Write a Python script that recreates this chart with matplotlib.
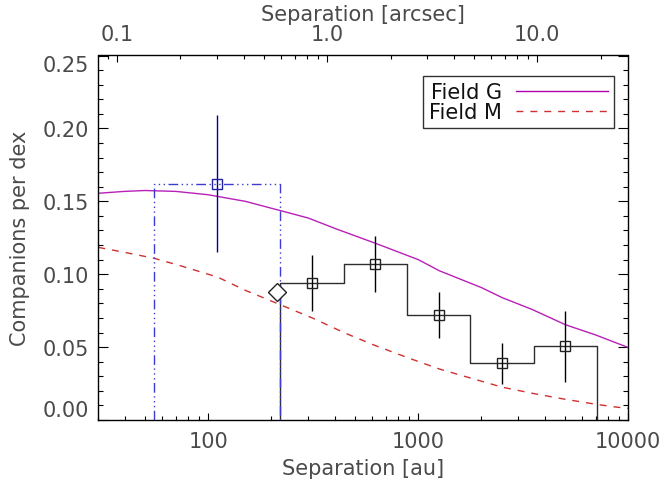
import numpy as np
import matplotlib
matplotlib.use("Agg")
import matplotlib.pyplot as plt
from matplotlib.ticker import LogLocator, NullFormatter, MultipleLocator
from matplotlib.lines import Line2D

# ---------------- data ----------------
distance_pc = 369.0  # au per arcsec for the top axis

# Field G (solar-type) curve
fieldG_sep = [30, 40, 50, 70, 100, 150, 221, 300, 408, 626, 1000, 1259, 2000, 2512, 3500, 5012, 7000, 10000]
fieldG_val = [0.1555, 0.1568, 0.1574, 0.1568, 0.1545, 0.1500, 0.1436, 0.1385, 0.1310, 0.1212,
              0.1100, 0.1024, 0.0908, 0.0839, 0.0757, 0.0654, 0.0583, 0.0497]

# Field M curve
fieldM_sep = [30, 40, 55, 73, 111, 150, 221, 313, 450, 626, 900, 1259, 1800, 2512, 3500, 5012, 7000, 8810, 10000]
fieldM_val = [0.1184, 0.1150, 0.1110, 0.1060, 0.0980, 0.0890, 0.0790, 0.0700, 0.0595, 0.0510,
              0.0425, 0.0350, 0.0285, 0.0225, 0.0183, 0.0142, 0.0108, 0.0088, 0.0080]

# Black histogram
hist_edges = [221, 443, 886, 1771, 3542, 7085]
hist_centers = [313, 626, 1252, 2505, 5010]
hist_vals = [0.094, 0.107, 0.072, 0.039, 0.051]
hist_err_lo = [0.075, 0.088, 0.056, 0.0245, 0.026]
hist_err_hi = [0.113, 0.126, 0.088, 0.053, 0.075]

# Blue bin
blue_edges = [55.3, 221]
blue_center = [110.7]
blue_val = [0.162]
blue_err_lo = [0.115]
blue_err_hi = [0.209]

# Diamond point
diamond_sep = [212]
diamond_val = [0.0876]

# ---------------- figure ----------------
W, H = 663, 489
fig = plt.figure(figsize=(W / 100, H / 100), dpi=100)
L, R, T, B = 98.3, 628.3, 56.5, 421.0
ax = fig.add_axes([L / W, (H - B) / H, (R - L) / W, (B - T) / H])

txt_color = '#4a4a4a'
fam = ['DejaVu Sans']
fs = 15

ax.set_xscale('log')
ax.set_xlim(30, 10000)
ax.set_ylim(0, 0.25)

# curves
ax.plot(fieldG_sep, fieldG_val, color='#b820b8', lw=1.0, zorder=2)
ax.plot(fieldM_sep, fieldM_val, color='#d03030', lw=1.0, linestyle=(0, (5, 5)), zorder=2)

# black histogram steps
e = np.array(hist_edges, dtype=float)
v = np.array(hist_vals, dtype=float)
sx = np.repeat(e, 2)
sy = np.concatenate([[0], np.repeat(v, 2), [0]])
ax.plot(sx, sy, color='#2e2e2e', lw=1.0, zorder=3)

# blue box (drawn over the histogram edge)
ddd = (0, (7, 2.5, 1, 2.5, 1, 2.5, 1, 2.5))
bx = [blue_edges[0], blue_edges[0], blue_edges[1], blue_edges[1]]
by = [0, blue_val[0], blue_val[0], 0]
ax.plot(bx, by, color='#3c3cd2', lw=1.0, linestyle=ddd, zorder=4)

# error bars and markers
hv = np.array(hist_vals)
ax.errorbar(hist_centers, hist_vals,
            yerr=[hv - np.array(hist_err_lo), np.array(hist_err_hi) - hv],
            fmt='none', ecolor='black', elinewidth=1.0, capsize=0, zorder=5)
ax.plot(hist_centers, hist_vals, linestyle='none', marker='s', ms=6.7,
        mfc='none', mec='#222222', mew=1.0, zorder=6)

bv = np.array(blue_val)
ax.errorbar(blue_center, blue_val,
            yerr=[bv - np.array(blue_err_lo), np.array(blue_err_hi) - bv],
            fmt='none', ecolor='#000099', elinewidth=1.0, capsize=0, zorder=5)
ax.plot(blue_center, blue_val, linestyle='none', marker='s', ms=6.7,
        mfc='none', mec='#2020a0', mew=1.0, zorder=6)

ax.plot(diamond_sep, diamond_val, linestyle='none', marker='D', ms=9.5,
        mfc='white', mec='#222222', mew=1.0, zorder=6)

# ---------------- axes styling ----------------
for s in ax.spines.values():
    s.set_linewidth(1.0)
    s.set_color('black')
ax.spines['top'].set_visible(False)

ax.set_xticks([100, 1000, 10000])
ax.set_xticklabels(['100', '1000', '10000'])
ax.xaxis.set_minor_locator(LogLocator(base=10, subs=np.arange(2, 10)))
ax.xaxis.set_minor_formatter(NullFormatter())
ax.set_yticks([0.0, 0.05, 0.10, 0.15, 0.20, 0.25])
ax.set_yticklabels(['0.00', '0.05', '0.10', '0.15', '0.20', '0.25'])
ax.yaxis.set_minor_locator(MultipleLocator(0.01))

ax.tick_params(axis='x', which='major', direction='in', length=5, width=0.8, top=False, pad=8,
               labelsize=fs, labelcolor=txt_color)
ax.tick_params(axis='x', which='minor', direction='in', length=2.6, width=0.8, top=False)
ax.tick_params(axis='y', which='major', direction='in', length=7.2, width=0.8, right=True, pad=7,
               labelsize=fs, labelcolor=txt_color)
ax.tick_params(axis='y', which='minor', direction='in', length=3.6, width=0.8, right=True)
for lab in ax.get_xticklabels() + ax.get_yticklabels():
    lab.set_family(fam)
ylabs = ax.get_yticklabels()
ylabs[0].set_va('bottom')
ylabs[-1].set_va('top')

secax = ax.secondary_xaxis('top', functions=(lambda x: x / distance_pc, lambda x: x * distance_pc))
secax.set_xticks([0.1, 1.0, 10.0])
secax.set_xticklabels(['0.1', '1.0', '10.0'])
secax.xaxis.set_minor_locator(LogLocator(base=10, subs=np.arange(2, 10)))
secax.xaxis.set_minor_formatter(NullFormatter())
secax.tick_params(which='major', direction='in', length=5, width=0.8, pad=8,
                  labelsize=fs, labelcolor=txt_color)
secax.tick_params(which='minor', direction='in', length=2.6, width=0.8)
for lab in secax.get_xticklabels():
    lab.set_family(fam)
secax.spines['top'].set_linewidth(1.0)
secax.spines['top'].set_color('black')

ax.set_xlabel('Separation [au]', fontsize=fs, color=txt_color, family=fam, labelpad=5)
ax.set_ylabel('Companions per dex', fontsize=fs, color=txt_color, family=fam, labelpad=9)
secax.set_xlabel('Separation [arcsec]', fontsize=fs, color=txt_color, family=fam, labelpad=3)

# legend
handles = [Line2D([], [], color='#b000b0', lw=1.0),
           Line2D([], [], color='#d03030', lw=1.0, linestyle=(0, (5, 5)))]
leg = ax.legend(handles, ['Field G', 'Field M'], loc='upper right',
                bbox_to_anchor=(0.9736, 0.9446), borderaxespad=0, markerfirst=False,
                fancybox=False, framealpha=1, edgecolor='#333333', handlelength=4.4,
                handletextpad=0.7, borderpad=0.3, labelspacing=0.0,
                prop={'family': fam, 'size': 15})
leg.get_frame().set_linewidth(1.0)
for t in leg.get_texts():
    t.set_color('#111111')

fig.savefig('out.png', dpi=100)
